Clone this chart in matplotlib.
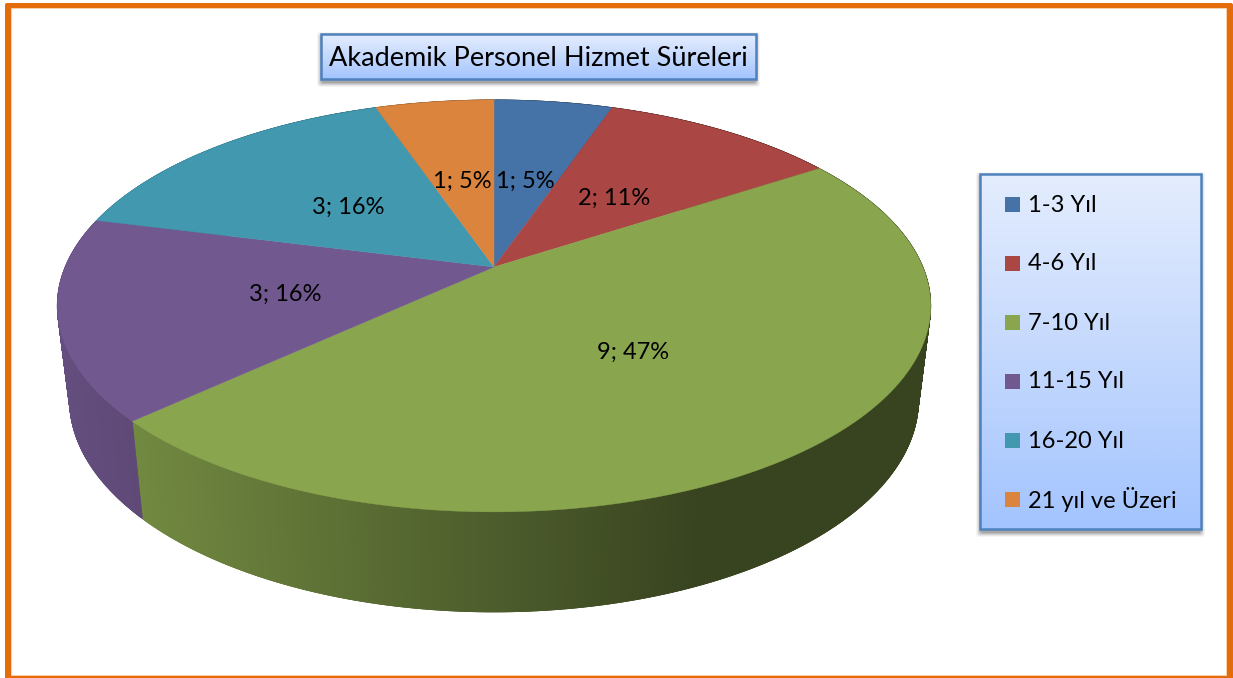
"""
Akademik personel hizmet sureleri: 3D pie in the Excel 2007 style.
The pie is drawn by hand because matplotlib has no perspective pie.
"""
import numpy as np
import matplotlib
matplotlib.use("Agg")
import matplotlib.pyplot as plt
from matplotlib.collections import PolyCollection
from matplotlib.colors import LinearSegmentedColormap, to_rgb
from matplotlib.patches import FancyBboxPatch, Polygon, Rectangle

plt.rcParams["font.family"] = ["Lato", "DejaVu Sans"]

# ---------------------------------------------------------------------------
# Data
# ---------------------------------------------------------------------------
TITLE = "Akademik Personel Hizmet Süreleri"
categories = ["1-3 Yıl", "4-6 Yıl", "7-10 Yıl", "11-15 Yıl", "16-20 Yıl", "21 yıl ve Üzeri"]
values = [1, 2, 9, 3, 3, 1]
percents = [5, 11, 47, 16, 16, 5]
colors = ["#4572a7", "#aa4643", "#89a54e", "#71588f", "#4198af", "#db843d"]

# ---------------------------------------------------------------------------
# Projection of the unit disc on the page (pixels)
# ---------------------------------------------------------------------------
APEX_X, APEX_Y = 494, 267
SCALE_X, SCALE_Y, TILT = 428.8, 198.6, 0.189
FRONT_Y = APEX_Y + SCALE_Y / (1 - TILT)
WALL_DEPTH = 100     # at the front of the pie
WALL_TAPER = 0.03    # wall gets shorter towards the back
WALL_SHRINK = 0.972  # and the bottom edge is a bit narrower


def project(theta, r=1.0):
    """Angle clockwise from the top (radians) and radius -> pixel position."""
    x = r * np.sin(theta)
    y = r * np.cos(theta)
    denom = 1 + TILT * y
    return APEX_X + SCALE_X * x / denom, APEX_Y - SCALE_Y * y / denom


def drop(px, py):
    """Rim point -> matching point on the bottom edge of the wall."""
    return APEX_X + WALL_SHRINK * (px - APEX_X), py + WALL_DEPTH - (FRONT_Y - py) * WALL_TAPER


def wall_shade(px):
    return np.clip(0.83 - (px - 133) * 0.00074, 0.41, 1.0)


def gradient_box(ax, x0, y0, x1, y1):
    """Blue box with a soft shadow, as used for the title and the legend."""
    for grow, alpha in zip([5, 4, 3, 2, 1], [0.04, 0.06, 0.08, 0.10, 0.12]):
        ax.add_patch(FancyBboxPatch(
            (x0 - grow + 1, y0 + 3 - grow), x1 - x0 + 2 * grow - 2, y1 - y0 + 2 * grow,
            boxstyle="round,pad=0,rounding_size=3", fc="black", ec="none", alpha=alpha, zorder=4))
    cmap = LinearSegmentedColormap.from_list("box", ["#e4edfe", "#c5d9fd", "#a3c4ff"])
    ax.imshow(np.linspace(0, 1, 256).reshape(-1, 1), cmap=cmap, aspect="auto",
              extent=(x0, x1, y1, y0), zorder=5)
    ax.add_patch(Rectangle((x0, y0), x1 - x0, y1 - y0, fc="none", ec="#4f81bd", lw=1.8, zorder=6))


def main():
    fig = plt.figure(figsize=(12.33, 6.78), dpi=100)
    ax = fig.add_axes([0, 0, 1, 1])
    ax.axis("off")

    # Outer frame
    ax.add_patch(FancyBboxPatch((5, 3), 1228, 680, boxstyle="round,pad=0,rounding_size=2",
                                fc="#e46c0a", ec="none", zorder=0))
    ax.add_patch(Rectangle((11, 8), 1215, 667, fc="white", ec="#fbd5b5", lw=0.6, zorder=1))

    fractions = np.array(values) / sum(values)
    edges = np.concatenate([[0], np.cumsum(fractions)]) * 2 * np.pi

    # Side walls first, the top face covers whatever lies behind it.
    # Each quad reaches over the next one so no seams show through.
    for start, end, color in zip(edges[:-1], edges[1:], colors):
        thetas = np.linspace(start, end, max(int((end - start) * 240), 4))
        px, py = project(thetas)
        qx, qy = drop(px, py)
        quads = []
        rgb = []
        for i in range(len(thetas) - 1):
            j = min(i + 2, len(thetas) - 1)
            quads.append([(px[i], py[i]), (px[j], py[j]), (qx[j], qy[j]), (qx[i], qy[i])])
            rgb.append(tuple(np.array(to_rgb(color)) * wall_shade(px[i])))
        ax.add_collection(PolyCollection(quads, facecolors=rgb, edgecolors=rgb, linewidths=0.6, zorder=2))

    # Top face
    for start, end, color in zip(edges[:-1], edges[1:], colors):
        thetas = np.linspace(start, end, 200)
        px, py = project(thetas)
        points = [(APEX_X, APEX_Y)] + list(zip(px, py))
        ax.add_patch(Polygon(points, closed=True, fc=color, ec=color, lw=0.3, zorder=3))

    # Slice labels sit about half way along the radius
    for start, end, val, pct in zip(edges[:-1], edges[1:], values, percents):
        lx, ly = project((start + end) / 2, 0.49)
        ax.text(lx, ly + 2.5, f"{val}; {pct}%", ha="center", va="center", fontsize=17,
                color="black", zorder=7)

    # Title
    gradient_box(ax, 321, 34, 756, 79)
    ax.text(538.5, 58, TITLE, ha="center", va="center", fontsize=19.5, color="black", zorder=7)

    # Legend
    gradient_box(ax, 980, 174, 1201, 529)
    for i, (name, color) in enumerate(zip(categories, colors)):
        y = 204 + i * 59
        ax.add_patch(Rectangle((1005, y - 7.5), 15, 15, fc=color, ec="none", zorder=7))
        ax.text(1028, y + 1, name, ha="left", va="center", fontsize=17, color="black", zorder=7)

    ax.set_xlim(0, 1233)
    ax.set_ylim(678, 0)
    fig.savefig("out.png", dpi=100)
    plt.close(fig)


if __name__ == "__main__":
    main()
